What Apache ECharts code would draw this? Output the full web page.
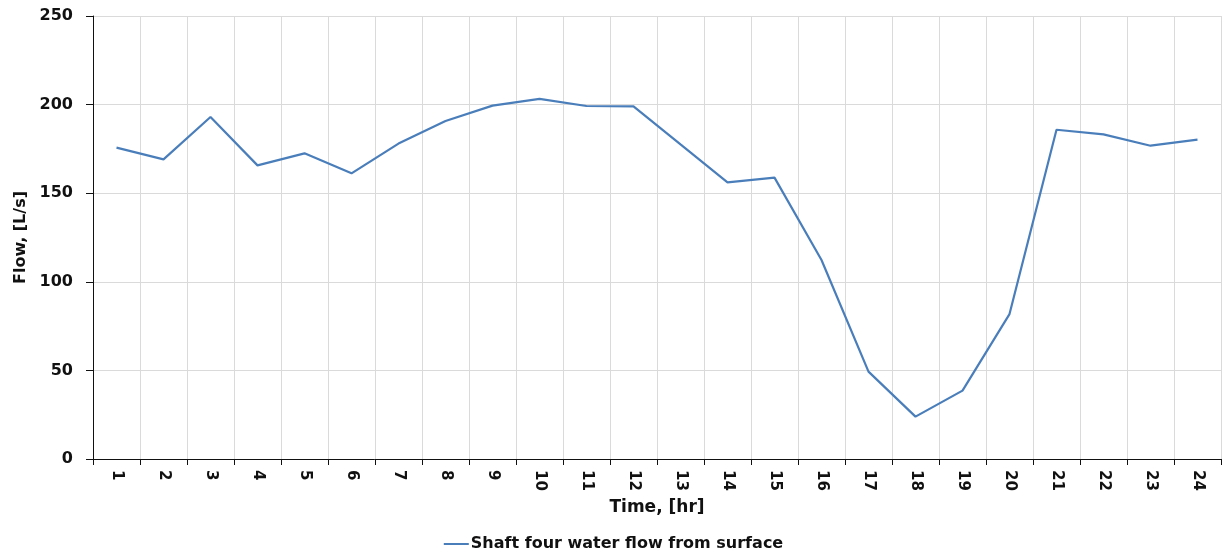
<!DOCTYPE html>
<html>
<head>
<meta charset="utf-8">
<script src="https://cdn.jsdelivr.net/npm/echarts@6/dist/echarts.min.js"></script>
<style>html,body{margin:0;padding:0;background:#fff;}#c{width:1227px;height:557px;}</style>
</head>
<body>
<div id="c"></div>
<script>
const hours = ['1','2','3','4','5','6','7','8','9','10','11','12','13','14','15','16','17','18','19','20','21','22','23','24'];
const flow = [175.7,169.1,193.0,165.7,172.5,161.2,178.0,190.7,199.4,203.2,199.2,199.0,177.5,156.1,158.8,112.3,49.3,23.9,38.6,81.8,185.8,183.2,176.8,180.2];
const seriesName = 'Shaft four water flow from surface';
const yTicks = {min:0, max:250, interval:50};

const FONT = 'DejaVu Sans';
const chart = echarts.init(document.getElementById('c'));
chart.setOption({
  animation:false,
  backgroundColor:'#fff',
  grid:{left:93,right:6,top:16,bottom:98},
  legend:{
    bottom:0,left:'center',
    icon:'rect',itemWidth:25,itemHeight:2,itemGap:10,
    textStyle:{fontFamily:FONT,fontWeight:'bold',fontSize:16,color:'#111',padding:[0,0,0,-3]},
    data:[seriesName]
  },
  xAxis:{
    type:'category',data:hours,boundaryGap:true,
    name:'Time, [hr]',nameLocation:'middle',nameGap:40,
    nameTextStyle:{fontFamily:FONT,fontWeight:'bold',fontSize:17,color:'#111'},
    axisLine:{lineStyle:{color:'#111',width:1}},
    axisTick:{show:true,length:6,lineStyle:{color:'#111'}},
    axisLabel:{rotate:-90,interval:0,margin:11,fontFamily:FONT,fontWeight:'bold',fontSize:15,color:'#111'},
    splitLine:{show:true,interval:0,lineStyle:{color:'#dadada',width:1}}
  },
  yAxis:{
    type:'value',min:yTicks.min,max:yTicks.max,interval:yTicks.interval,
    name:'Flow, [L/s]',nameLocation:'middle',nameGap:64,
    nameTextStyle:{fontFamily:FONT,fontWeight:'bold',fontSize:16,color:'#111'},
    axisLine:{show:true,lineStyle:{color:'#111',width:1}},
    axisTick:{show:true,length:7,lineStyle:{color:'#111'}},
    axisLabel:{margin:20,fontFamily:FONT,fontWeight:'bold',fontSize:16,color:'#111'},
    splitLine:{show:true,lineStyle:{color:'#dadada',width:1}}
  },
  series:[{
    name:seriesName,type:'line',data:flow,
    symbol:'none',showSymbol:false,
    lineStyle:{color:'#4a7ebb',width:2.2},
    itemStyle:{color:'#4a7ebb'}
  }]
});
</script>
</body>
</html>
